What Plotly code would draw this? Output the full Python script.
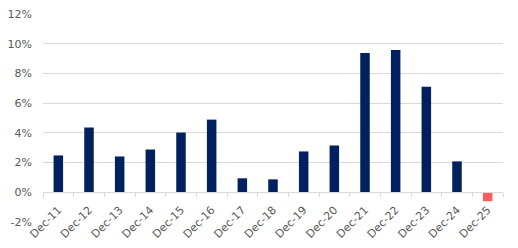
import plotly.graph_objects as go

categories = ["Dec-11", "Dec-12", "Dec-13", "Dec-14", "Dec-15", "Dec-16", "Dec-17", "Dec-18",
              "Dec-19", "Dec-20", "Dec-21", "Dec-22", "Dec-23", "Dec-24", "Dec-25"]
values = [2.48, 4.36, 2.41, 2.88, 4.02, 4.89, 0.94, 0.87, 2.75, 3.15, 9.38, 9.58, 7.10, 2.08, -0.6]
y_tick_vals = [-2, 0, 2, 4, 6, 8, 10, 12]
y_tick_text = ["-2%", "0%", "2%", "4%", "6%", "8%", "10%", "12%"]

colors = ["#002060"] * (len(values) - 1) + ["#FF5B5B"]

fig = go.Figure(go.Bar(x=categories, y=values, marker=dict(color=colors, line=dict(width=0))))

font_family = "'DejaVu Sans', sans-serif"
fig.update_layout(
    width=518, height=248,
    margin=dict(l=43, r=15, t=14, b=26),
    paper_bgcolor="white", plot_bgcolor="white",
    bargap=0.69,
    showlegend=False,
    font=dict(family=font_family, size=11, color="#595959"),
)
fig.update_yaxes(
    range=[-2, 12], tickvals=y_tick_vals, ticktext=y_tick_text,
    showgrid=True, gridcolor="#D9D9D9", gridwidth=1,
    zeroline=False, showline=False, ticks="", ticklabelstandoff=10,
    tickfont=dict(size=11, color="#595959"), automargin=False,
)
fig.update_xaxes(
    type="category", anchor="free", position=2/14,
    showline=True, linecolor="#D9D9D9", linewidth=1,
    ticks="outside", tickson="boundaries", ticklen=4, tickcolor="#D9D9D9",
    tickangle=-45, showgrid=False, automargin=False, ticklabelstandoff=6,
    tickfont=dict(size=11, color="#595959"),
)
fig.write_html("out.html")
